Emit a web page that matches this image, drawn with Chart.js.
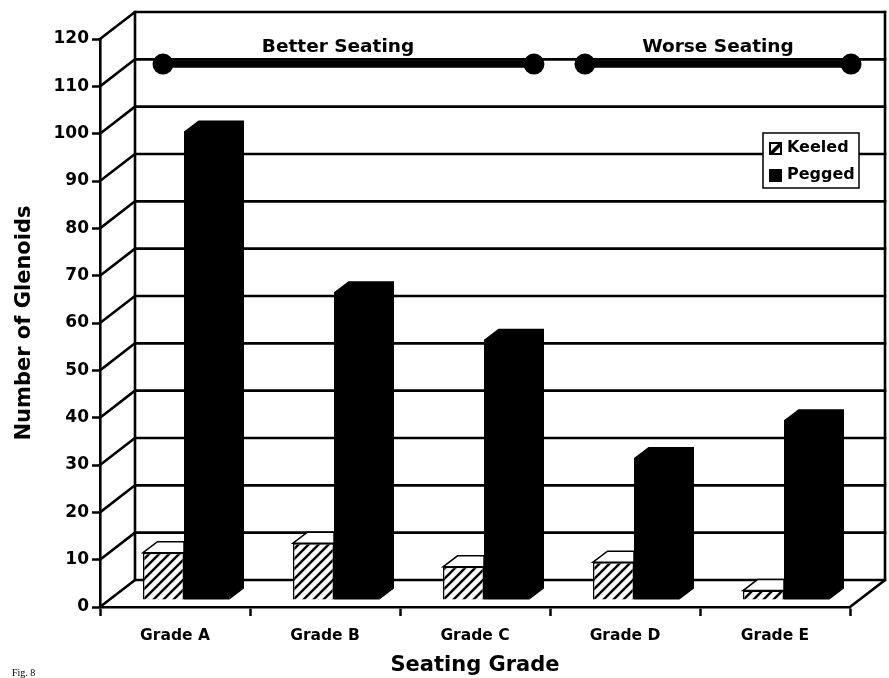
<!DOCTYPE html>
<html>
<head>
<meta charset="utf-8">
<style>html,body{margin:0;padding:0;background:#fff}canvas{display:block}</style>
<script src="https://cdn.jsdelivr.net/npm/chart.js@4/dist/chart.umd.min.js"></script>
</head>
<body>
<canvas id="c" width="889" height="678"></canvas>
<script>
const grades = ['Grade A','Grade B','Grade C','Grade D','Grade E'];
const keeled = [10,12,7,8,2];
const pegged = [99,65,55,30,38];
const yTicks = [0,10,20,30,40,50,60,70,80,90,100,110,120];
// seating spans, x as fractional grade index (0 = Grade A centre)
const betterX = [-0.08,2.393];
const worseX = [2.733,4.507];
const spanY = 114.7;

const FONT = '"DejaVu Sans"';
const BACK = {x:35, y:-27};   // wall offset
const PLANE = {x:10.125, y:-7}; // bars stand this far behind the front edge
const DEPTH = {x:14.5, y:-11};  // bar depth

function hatch(){
  const s = 10, p = document.createElement('canvas');
  p.width = s; p.height = s;
  const g = p.getContext('2d');
  g.fillStyle = '#fff'; g.fillRect(0,0,s,s);
  g.strokeStyle = '#000'; g.lineWidth = 2.4;
  g.beginPath();
  g.moveTo(-2,2); g.lineTo(2,-2);
  g.moveTo(-2,s+2); g.lineTo(s+2,-2);
  g.moveTo(s-2,s+2); g.lineTo(s+2,s-2);
  g.stroke();
  return document.createElement('canvas').getContext('2d').createPattern(p,'repeat');
}

function poly(ctx,pts,fill){
  ctx.beginPath();
  pts.forEach((p,i)=> i ? ctx.lineTo(p[0],p[1]) : ctx.moveTo(p[0],p[1]));
  ctx.closePath();
  ctx.fillStyle = fill; ctx.fill();
}

const walls = {
  id:'walls',
  beforeDatasetsDraw(chart){
    const {ctx, chartArea:a, scales:{y}} = chart;
    ctx.save();
    ctx.strokeStyle = '#000'; ctx.lineCap = 'square';
    yTicks.forEach(v=>{
      const py = y.getPixelForValue(v);
      ctx.lineWidth = 2.6;
      ctx.beginPath();
      ctx.moveTo(a.left,py); ctx.lineTo(a.left+BACK.x,py+BACK.y);
      ctx.lineTo(a.right+BACK.x,py+BACK.y);
      ctx.stroke();
    });
    ctx.lineWidth = 2.6;
    ctx.beginPath();
    ctx.moveTo(a.left+BACK.x,a.top+BACK.y); ctx.lineTo(a.left+BACK.x,a.bottom+BACK.y);
    ctx.moveTo(a.right+BACK.x,a.top+BACK.y); ctx.lineTo(a.right+BACK.x,a.bottom+BACK.y);
    ctx.lineTo(a.right,a.bottom);
    ctx.stroke();
    ctx.restore();
  },
  beforeDatasetDraw(chart,args){
    if(chart.data.datasets[args.index].type==='line') return;
    const ctx = chart.ctx;
    ctx.save();
    ctx.translate(PLANE.x,PLANE.y);
    const isKeeled = args.index===0;
    args.meta.data.forEach(b=>{
      const x0 = b.x-b.width/2, x1 = b.x+b.width/2;
      if(isKeeled){
        poly(ctx,[[x0,b.y],[x0+DEPTH.x,b.y+DEPTH.y],[x1,b.y+DEPTH.y],[x1,b.y]],'#fff');
        ctx.strokeStyle='#000'; ctx.lineWidth=1.5; ctx.stroke();
      }else{
        poly(ctx,[[x0,b.y],[x0+DEPTH.x,b.y+DEPTH.y],[x1+DEPTH.x,b.y+DEPTH.y],
          [x1+DEPTH.x,b.base+DEPTH.y],[x1,b.base]],'#000');
      }
    });
  },
  afterDatasetDraw(chart,args){
    if(chart.data.datasets[args.index].type==='line') return;
    chart.ctx.restore();
  },
  afterDraw(chart){
    const ctx = chart.ctx;
    ctx.save();
    ctx.fillStyle = '#000'; ctx.textBaseline = 'middle'; ctx.textAlign = 'center';
    ctx.font = `bold 18.5px ${FONT}`;
    ctx.fillText('Better Seating',338,47);
    ctx.fillText('Worse Seating',718,47);
    // legend
    ctx.fillStyle='#fff'; ctx.strokeStyle='#000'; ctx.lineWidth=1.5;
    ctx.fillRect(763,133,96,55); ctx.strokeRect(763,133,96,55);
    ctx.fillStyle='#000';
    ctx.fillRect(769,169,13,13);
    ctx.fillRect(769,142,13,13);
    poly(ctx,[[771,151],[778,144],[771,144]],'#fff');
    poly(ctx,[[774,153],[780,153],[780,147]],'#fff');
    ctx.fillStyle='#000'; ctx.textAlign='left';
    ctx.font = `bold 16px ${FONT}`;
    ctx.fillText('Keeled',787,148);
    ctx.fillText('Pegged',787,175);
    ctx.font = '10px "Liberation Serif"';
    ctx.fillText('Fig. 8',12,673);
    ctx.restore();
  }
};

const spanLine = (label,xs) => ({
  type:'line', label, parsing:false,
  data: xs.map(x=>({x,y:spanY})),
  borderColor:'#000', backgroundColor:'#000', borderWidth:7.5,
  pointRadius:10.5, pointBackgroundColor:'#000', pointBorderWidth:0, clip:false
});

new Chart(document.getElementById('c'),{
  type:'bar',
  data:{
    labels:grades,
    datasets:[
      {label:'Keeled',data:keeled,backgroundColor:hatch(),borderColor:'#000',borderWidth:1.5,
       barPercentage:0.948,categoryPercentage:0.5767,clip:false},
      {label:'Pegged',data:pegged,backgroundColor:'#000',borderColor:'#000',borderWidth:0,
       barPercentage:1.052,categoryPercentage:0.5767,clip:false},
      spanLine('Better Seating',betterX),
      spanLine('Worse Seating',worseX)
    ]
  },
  options:{
    responsive:false, animation:false, devicePixelRatio:1,
    layout:{padding:{top:39,right:39,bottom:0,left:0}},
    plugins:{legend:{display:false},tooltip:{enabled:false}},
    scales:{
      x:{
        afterFit(s){ s.height = 71; },
        grid:{drawOnChartArea:false,tickLength:9,tickWidth:2.5,tickColor:'#000'},
        border:{color:'#000',width:2.6},
        ticks:{color:'#000',padding:11,maxRotation:0,font:{family:FONT,weight:'bold',size:15.5}},
        title:{display:true,text:'Seating Grade',color:'#000',padding:{top:4,bottom:0},
          font:{family:FONT,weight:'bold',size:21}}
      },
      y:{
        min:0,max:120,
        afterFit(s){ s.width = 100; },
        afterBuildTicks(s){ s.ticks = yTicks.map(value=>({value})); },
        grid:{drawOnChartArea:false,tickLength:8,tickWidth:2.5,tickColor:'#000'},
        border:{color:'#000',width:2.6},
        ticks:{color:'#000',padding:3,font:{family:FONT,weight:'bold',size:17}},
        title:{display:true,text:'Number of Glenoids',color:'#000',padding:{top:12,bottom:0},
          font:{family:FONT,weight:'bold',size:21}}
      }
    }
  },
  plugins:[walls]
});
</script>
</body>
</html>
